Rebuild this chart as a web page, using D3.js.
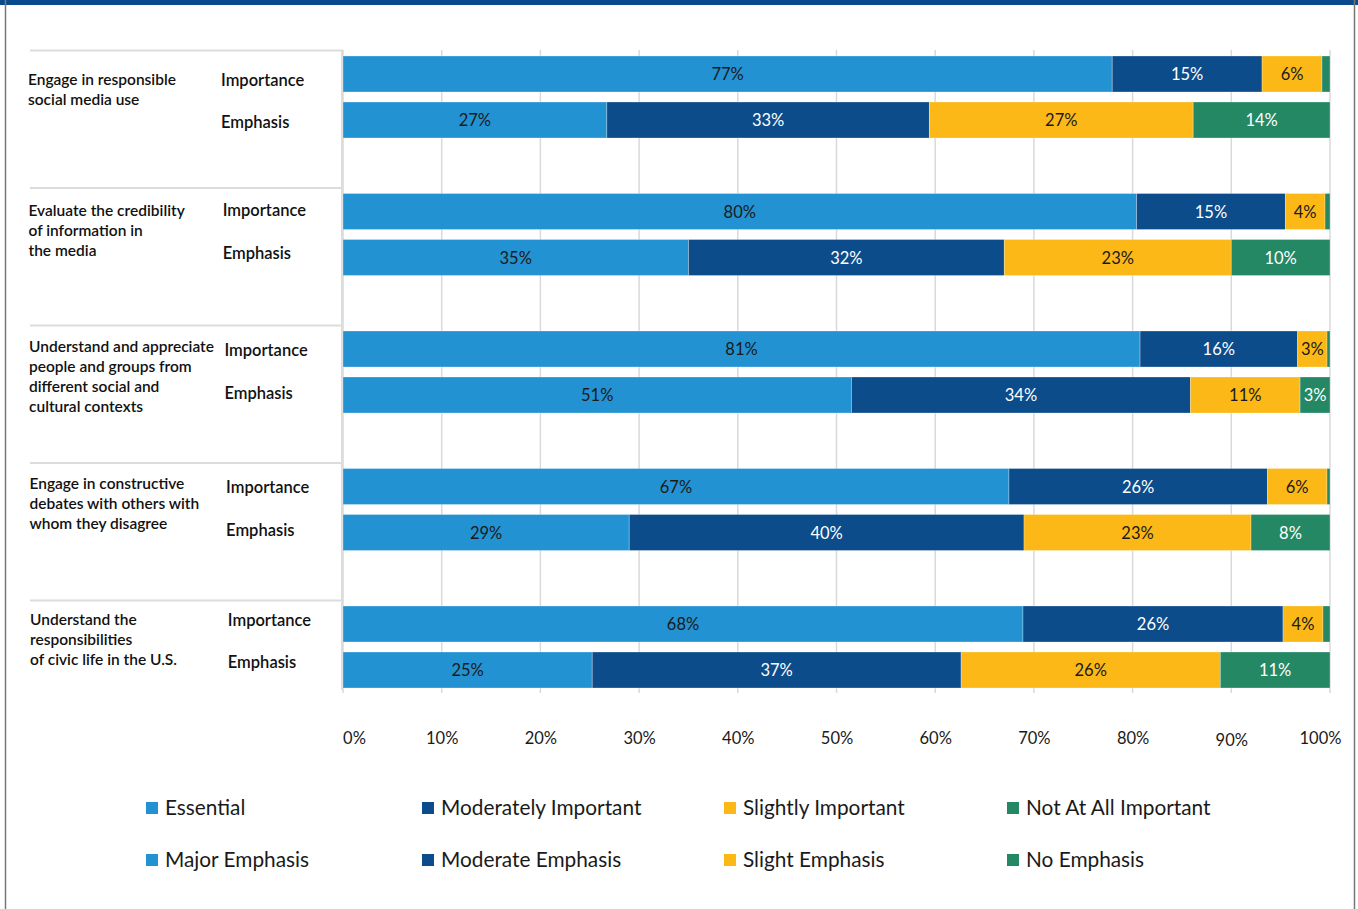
<!DOCTYPE html>
<html>
<head>
<meta charset="utf-8">
<script src="https://cdn.jsdelivr.net/npm/d3@7"></script>
<style>
  html, body { margin: 0; padding: 0; background: #fff; }
  svg { display: block; }
  text { font-family: Lato, "Open Sans", sans-serif; }
</style>
</head>
<body>
<svg id="chart" width="1358" height="909"></svg>
<script>
// ---------- DATA ----------
const categories = [
  ["Engage in responsible", "social media use"],
  ["Evaluate the credibility", "of information in", "the media"],
  ["Understand and appreciate", "people and groups from", "different social and", "cultural contexts"],
  ["Engage in constructive", "debates with others with", "whom they disagree"],
  ["Understand the", "responsibilities", "of civic life in the U.S."]
];
const rowTypes = ["Importance", "Emphasis"];
const seriesKeys = ["first", "second", "third", "fourth"];

// Importance: Essential, Moderately Important, Slightly Important, Not At All Important
const importanceFirst  = [77, 80, 81, 67, 68];
const importanceSecond = [15, 15, 16, 26, 26];
const importanceThird  = [6, 4, 3, 6, 4];
const importanceFourth = [0.8, 0.5, 0.3, 0.3, 0.7];

// Emphasis: Major, Moderate, Slight, No Emphasis
const emphasisFirst  = [27, 35, 51, 29, 25];
const emphasisSecond = [33, 32, 34, 40, 37];
const emphasisThird  = [27, 23, 11, 23, 26];
const emphasisFourth = [14, 10, 3, 8, 11];

const tickValues = [0, 10, 20, 30, 40, 50, 60, 70, 80, 90, 100];
const tickLabels = ["0%", "10%", "20%", "30%", "40%", "50%", "60%", "70%", "80%", "90%", "100%"];

const legendImportance = ["Essential", "Moderately Important", "Slightly Important", "Not At All Important"];
const legendEmphasis = ["Major Emphasis", "Moderate Emphasis", "Slight Emphasis", "No Emphasis"];

const colors = ["#2392d2", "#0c4c8b", "#fbb816", "#248865"];
const labelColors = ["#1a1a1a", "#ffffff", "#1a1a1a", "#ffffff"];

// ---------- BUILD ROWS ----------
const rows = [];
categories.forEach((c, i) => {
  rows.push({ group: i, type: "Importance",
    first: importanceFirst[i], second: importanceSecond[i], third: importanceThird[i], fourth: importanceFourth[i] });
  rows.push({ group: i, type: "Emphasis",
    first: emphasisFirst[i], second: emphasisSecond[i], third: emphasisThird[i], fourth: emphasisFourth[i] });
});

const stacked = d3.stack().keys(seriesKeys).offset(d3.stackOffsetExpand)(rows);

// ---------- LAYOUT ----------
const svg = d3.select("#chart");
const W = 1358, H = 909;
const x = d3.scaleLinear().domain([0, 1]).range([343, 1330]);
const groupTop = d3.scaleLinear().domain([0, 4]).range([50, 600]);
const barH = 36;
const barY = r => groupTop(r.group) + (r.type === "Importance" ? 6 : 52);

// frame
svg.append("rect").attr("x", 0).attr("y", 0).attr("width", W).attr("height", 5).attr("fill", "#0b4a8c");
svg.append("line").attr("x1", 5.5).attr("x2", 5.5).attr("y1", 0).attr("y2", H).attr("stroke", "#777").attr("stroke-width", 1.5);
svg.append("line").attr("x1", 1354.5).attr("x2", 1354.5).attr("y1", 0).attr("y2", H).attr("stroke", "#777").attr("stroke-width", 1.5);

// gridlines
svg.append("g").selectAll("line").data(tickValues).join("line")
  .attr("x1", d => x(d / 100)).attr("x2", d => x(d / 100))
  .attr("y1", 50).attr("y2", 693)
  .attr("stroke", "#d9d9d9").attr("stroke-width", 1.5);

// left panel separators
svg.append("g").selectAll("line").data(d3.range(categories.length)).join("line")
  .attr("x1", 30).attr("x2", 343)
  .attr("y1", d => groupTop(d) + 0.5).attr("y2", d => groupTop(d) + 0.5)
  .attr("stroke", "#dcdcdc").attr("stroke-width", 2);
svg.append("line").attr("x1", 342).attr("x2", 342).attr("y1", 50).attr("y2", 690)
  .attr("stroke", "#dcdcdc").attr("stroke-width", 2);

// bars
const layers = svg.append("g").selectAll("g").data(stacked).join("g")
  .attr("fill", (d, i) => colors[i]);
layers.selectAll("rect").data(d => d).join("rect")
  .attr("x", d => x(d[0]))
  .attr("width", d => Math.max(0, x(d[1]) - x(d[0])))
  .attr("y", d => barY(d.data))
  .attr("height", barH)
  .attr("stroke", "rgba(255,255,255,0.35)")
  .attr("stroke-width", 0.8);

// bar labels
stacked.forEach((layer, li) => {
  svg.append("g").selectAll("text").data(layer.filter(d => d.data[layer.key] >= 2)).join("text")
    .attr("x", d => (x(d[0]) + x(d[1])) / 2)
    .attr("y", d => barY(d.data) + barH / 2 + 6)
    .attr("text-anchor", "middle")
    .attr("font-size", 16.5)
    .attr("fill", labelColors[li])
    .text(d => d.data[layer.key] + "%");
});

// category labels (layout offsets relative to each group's separator line)
const catOffset = [35, 28, 27, 26, 25];
const impOffset = [36, 28, 31, 30, 26];
const empOffset = [78, 71, 74, 73, 68];
const catG = svg.append("g");
categories.forEach((lines, i) => {
  const lx = 28 + i * 0.5;
  const t = catG.append("text")
    .attr("x", lx)
    .attr("y", groupTop(i) + catOffset[i])
    .attr("font-size", 15.5)
    .attr("font-weight", 600)
    .attr("fill", "#111");
  lines.forEach((ln, j) => {
    t.append("tspan").attr("x", lx).attr("dy", j === 0 ? 0 : 20).text(ln);
  });
  rowTypes.forEach((rt, k) => {
    catG.append("text")
      .attr("x", 221 + i * 1.7)
      .attr("y", groupTop(i) + (k === 0 ? impOffset[i] : empOffset[i]))
      .attr("font-size", 16.5)
      .attr("font-weight", 600)
      .attr("fill", "#111")
      .text(rt);
  });
});

// x axis labels
const axis = d3.axisBottom(x.copy().domain([0, 100]))
  .tickValues(tickValues)
  .tickFormat((d, i) => tickLabels[i])
  .tickSize(0);
const axG = svg.append("g").attr("transform", "translate(0,729)").call(axis);
axG.select(".domain").remove();
axG.selectAll("text")
  .attr("font-size", 16.5)
  .attr("fill", "#1a1a1a")
  .attr("font-family", "Lato, 'Open Sans', sans-serif")
  .attr("dx", (d, i) => i === 0 ? 11 : (i === tickValues.length - 1 ? -10 : 0))
  .attr("dy", (d, i) => i === 9 ? "0.85em" : "0.71em");

// legend
const legendX = [146, 422, 724, 1007];
[legendImportance, legendEmphasis].forEach((items, r) => {
  const y = r === 0 ? 808 : 860;
  const g = svg.append("g");
  g.selectAll("rect").data(items).join("rect")
    .attr("x", (d, i) => legendX[i])
    .attr("y", y - 6)
    .attr("width", 12).attr("height", 12)
    .attr("fill", (d, i) => colors[i]);
  g.selectAll("text").data(items).join("text")
    .attr("x", (d, i) => legendX[i] + 19)
    .attr("y", y + 7)
    .attr("font-size", 20.8)
    .attr("fill", "#1a1a1a")
    .text(d => d);
});
</script>
</body>
</html>
